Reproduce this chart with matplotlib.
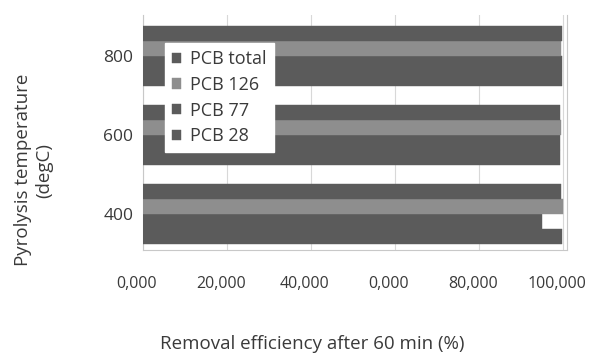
import numpy as np
import matplotlib
matplotlib.use("Agg")
import matplotlib.pyplot as plt
from matplotlib.transforms import ScaledTranslation

# data (bottom-to-top series order inside each group)
TEMPS = ["400", "600", "800"]
SERIES = ["PCB 28", "PCB 77", "PCB 126", "PCB total"]
PCB28 = [99.7, 99.3, 99.8]
PCB77 = [95.0, 99.3, 99.8]
PCB126 = [100.0, 99.5, 99.6]
PCB_TOTAL = [99.5, 99.3, 99.8]
XTICKS = [0, 20, 40, 60, 80, 100]
XTICK_LABELS = ["0,000", "20,000", "40,000", "0,000", "80,000", "100,000"]

DARK = "#5b5b5b"
LIGHT = "#8e8e8e"
COLORS = [DARK, DARK, LIGHT, DARK]
FONT = "Open Sans"
TXT = "#3a3a3a"

fig = plt.figure(figsize=(5.91, 3.54), dpi=100)
ax = fig.add_axes([143 / 591, 1 - 250 / 354, 424 / 591, 235 / 354])

y = np.arange(len(TEMPS))
h = 0.19
offsets = np.array([-1.5, -0.5, 0.5, 1.5]) * h
for off, name, vals, c in zip(offsets, SERIES, [PCB28, PCB77, PCB126, PCB_TOTAL], COLORS):
    ax.barh(y + off, vals, height=h, color=c, edgecolor=c, linewidth=0.3,
            label=name, zorder=3)

ax.set_xlim(0, 101)
ax.set_ylim(-0.45, 2.52)
ax.set_xticks(XTICKS)
ax.set_xticklabels(XTICK_LABELS, fontsize=11.5, family=FONT, color=TXT)
ax.set_yticks(y)
ax.set_yticklabels(TEMPS, fontsize=12.5, family=FONT, color=TXT)
ax.tick_params(axis="x", length=0, pad=19)
ax.tick_params(axis="y", length=0, pad=7)
ax.grid(axis="x", color="#d8d8d8", linewidth=0.8, zorder=0)
shift = ScaledTranslation(-6 / 100, 0, fig.dpi_scale_trans)
for lab in ax.get_xticklabels():
    lab.set_transform(lab.get_transform() + shift)

ax.spines["top"].set_visible(False)
for s in ["left", "bottom", "right"]:
    ax.spines[s].set_color("#c8c8c8")
    ax.spines[s].set_linewidth(0.8)

ax.set_xlabel("Removal efficiency after 60 min (%)", fontsize=13.5, family=FONT,
              color=TXT)
ax.xaxis.set_label_coords(0.399, -0.36)
ax.set_ylabel("Pyrolysis temperature\n(degC)", fontsize=13.5, family=FONT,
              color=TXT, linespacing=1.25)
ax.yaxis.set_label_coords(-0.212, 0.34)

handles, labels = ax.get_legend_handles_labels()
leg = ax.legend(handles[::-1], labels[::-1], loc="upper left",
                bbox_to_anchor=(0.052, 0.88), borderaxespad=0,
                prop={"family": FONT, "size": 13}, frameon=True,
                fancybox=False, edgecolor="white", framealpha=1,
                handlelength=0.5, handleheight=0.5, handletextpad=0.5,
                labelspacing=0.42, borderpad=0.4)
for t in leg.get_texts():
    t.set_color(TXT)

fig.savefig("out.png", dpi=100)
